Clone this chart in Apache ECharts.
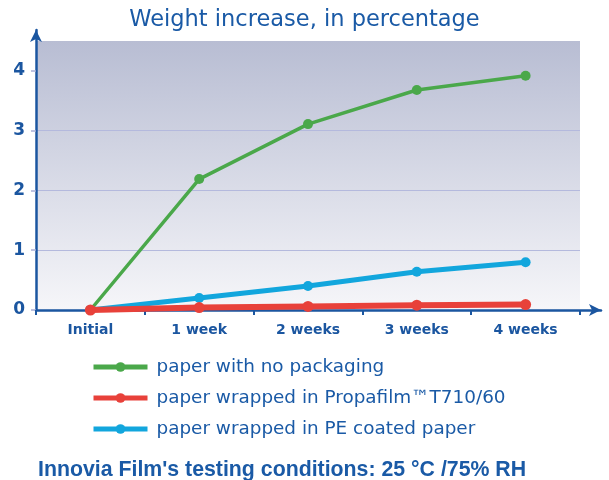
<!DOCTYPE html>
<html>
<head>
<meta charset="utf-8">
<script src="https://cdn.jsdelivr.net/npm/echarts@6/dist/echarts.min.js"></script>
<style>
  html, body { margin: 0; padding: 0; background: #fff; }
  #chart { width: 609px; height: 480px; }
</style>
</head>
<body>
<div id="chart"></div>
<script>
// data
const categories = ['Initial', '1 week', '2 weeks', '3 weeks', '4 weeks'];
const noPackaging = [0, 2.19, 3.11, 3.68, 3.92];
const propafilm = [0, 0.04, 0.06, 0.08, 0.09];
const peCoated = [0, 0.2, 0.4, 0.64, 0.8];
const yTicks = [0, 1, 2, 3, 4];

const blueText = '#1a5aa6';
const axisBlue = '#1b56a0';
const font = 'DejaVu Sans';

const seriesStyle = (name, data, color, width, size, z) => ({
  name: name,
  type: 'line',
  data: data,
  z: z,
  symbol: 'circle',
  symbolSize: size,
  showAllSymbol: true,
  lineStyle: {color: color, width: width},
  itemStyle: {color: color},
});

const chart = echarts.init(document.getElementById('chart'));
chart.setOption({
  animation: false,
  textStyle: {fontFamily: font},
  title: [
    {
      text: 'Weight increase, in percentage',
      left: 'center',
      top: 4,
      textStyle: {color: blueText, fontSize: 22.5, fontWeight: 'normal', fontFamily: font},
    },
    {
      text: "Innovia Film's testing conditions: 25 °C /75% RH",
      left: 33,
      top: 455,
      textStyle: {color: blueText, fontSize: 21.3, fontWeight: 'bold', fontFamily: 'Liberation Sans'},
    },
  ],
  legend: {
    orient: 'vertical',
    left: 86,
    top: 353,
    itemWidth: 54,
    itemHeight: 12,
    itemGap: 13,
    lineStyle: {width: 5},
    textStyle: {color: blueText, fontSize: 18.4, padding: [0, 0, 0, 4], fontFamily: font},
    data: ['paper with no packaging', 'paper wrapped in Propafilm™T710/60', 'paper wrapped in PE coated paper'],
  },
  grid: [
    {
      left: 36, right: 29, top: 41, bottom: 170,
      show: true,
      borderWidth: 0,
      backgroundColor: new echarts.graphic.LinearGradient(0, 0, 0, 1, [
        {offset: 0, color: '#b8bdd3'},
        {offset: 1, color: '#f6f6f9'},
      ]),
    },
    {left: 36, right: 8, top: 30, bottom: 170, show: false},
  ],
  xAxis: [
    {
      type: 'category',
      gridIndex: 0,
      data: categories,
      axisLine: {show: false},
      axisTick: {show: true, length: 5, inside: false, lineStyle: {color: axisBlue, width: 2}},
      axisLabel: {color: axisBlue, fontSize: 14, fontWeight: 'bold', margin: 13, fontFamily: font},
      splitLine: {show: false},
    },
    {
      type: 'value',
      gridIndex: 1,
      min: 0,
      max: 1,
      axisLine: {show: true, symbol: ['none', 'arrow'], symbolSize: [9, 12], lineStyle: {color: axisBlue, width: 2.5}},
      axisTick: {show: false},
      axisLabel: {show: false},
      splitLine: {show: false},
    },
  ],
  yAxis: [
    {
      type: 'value',
      gridIndex: 0,
      min: 0,
      max: 4.5,
      interval: 1,
      axisLine: {show: false},
      axisTick: {show: true, length: 5, customValues: yTicks, lineStyle: {color: '#a9aed6', width: 1.5}},
      axisLabel: {color: axisBlue, fontSize: 17, fontWeight: 'bold', margin: 11, customValues: yTicks, fontFamily: font},
      splitLine: {show: true, showMaxLine: false, lineStyle: {color: '#b4b9dd', width: 1}},
    },
    {
      type: 'value',
      gridIndex: 1,
      min: 0,
      max: 1,
      axisLine: {show: true, symbol: ['none', 'arrow'], symbolSize: [9, 12], lineStyle: {color: axisBlue, width: 2.5}},
      axisTick: {show: false},
      axisLabel: {show: false},
      splitLine: {show: false},
    },
  ],
  series: [
    seriesStyle('paper with no packaging', noPackaging, '#4aa84a', 3.5, 10, 2),
    seriesStyle('paper wrapped in PE coated paper', peCoated, '#12a6dd', 5, 10, 3),
    seriesStyle('paper wrapped in Propafilm™T710/60', propafilm, '#e8413a', 6, 11, 4),
  ],
});
</script>
</body>
</html>
